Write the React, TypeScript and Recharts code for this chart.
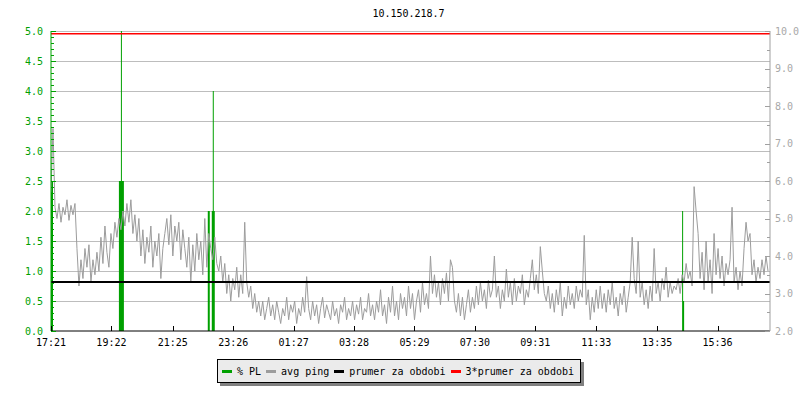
import { ComposedChart, Line, Area, XAxis, YAxis, CartesianGrid } from 'recharts';

const FONT = '"DejaVu Sans Mono", monospace';
const GREEN = '#00a000';
const PING_GRAY = '#9c9c9c';

// one avg ping sample every 4 minutes, starting at 17:21 (ms)
const SAMPLE_MIN = 4;
const PING = [
  5.7, 7.4, 5.3,
  5.0, 5.4, 4.9, 5.3, 5.1, 5.5, 4.95, 5.35, 5.1, 5.4,
  4.2, 3.2,
  3.9, 3.4, 4.2, 3.7, 4.3, 3.3, 3.9, 3.5, 4.1, 3.6,
  4.5, 3.8, 4.8, 4.1, 3.7, 4.6, 4.2,
  4.9, 4.5, 5.0, 4.7, 5.2, 4.8,
  5.4, 4.9, 5.5, 4.6, 5.1, 4.4, 5.0,
  4.0, 4.7, 3.8, 4.5, 4.1, 4.8, 3.7, 4.4, 4.0, 4.6, 3.4, 4.2,
  4.6, 5.0, 4.3, 5.1, 4.0, 4.8, 4.4, 4.9, 3.9, 4.7, 4.2,
  3.7, 4.5, 3.3, 4.3, 3.6, 4.6, 3.9,
  4.4, 3.5, 5.0, 3.7, 4.6,
  4.2, 3.9, 4.5, 3.8,
  3.6, 4.0, 3.3, 3.8,
  3.0, 3.5, 2.8, 3.4, 3.1, 3.7, 2.9,
  3.5, 3.0, 4.9, 3.3,
  2.9, 3.2, 2.6, 3.0, 2.5, 2.8,
  2.4, 2.8, 2.3, 2.6, 2.9, 2.4, 2.7, 2.3, 2.8, 2.5, 2.2, 2.6,
  2.4, 2.9, 2.3, 2.7, 2.5, 2.8, 2.2, 2.6, 2.4, 2.9, 2.5, 3.45,
  2.6, 2.3, 2.8, 2.4, 2.7, 2.2, 2.6, 2.9, 2.35, 2.7, 2.5, 2.3,
  2.8, 2.4, 2.6, 2.2, 2.7, 2.5, 2.9, 2.3, 2.6, 2.4, 2.8, 2.3,
  2.7, 2.45, 2.9, 2.3, 2.6, 2.5, 3.0, 2.4, 2.7, 2.3, 2.8, 2.5,
  3.1, 2.4, 2.7, 2.2, 2.9, 2.5, 3.2, 2.4, 2.8, 2.3, 3.0, 2.6,
  2.9, 2.4, 3.2, 2.6, 3.0, 2.3, 2.8, 3.1, 2.5, 3.3, 2.7, 3.0, 2.6,
  4.0,
  3.0, 3.5, 2.9, 3.3, 2.7, 3.4, 3.0, 3.55, 2.8,
  3.9, 3.7,
  2.8, 2.5, 3.0, 2.4, 2.9, 2.3, 2.7, 3.1, 2.5, 2.9, 2.6,
  3.2, 2.7, 3.3, 2.8, 3.1, 2.6, 3.35, 2.9, 3.1,
  4.0,
  2.9, 3.2, 2.6, 3.1, 2.8,
  3.65,
  2.9, 3.3, 2.7, 3.4, 2.8, 3.2, 3.0, 3.5, 2.7, 3.1, 2.9, 3.4,
  3.9, 3.1, 3.5, 3.0, 4.25, 3.6, 3.0,
  2.8, 3.2, 2.6, 3.0, 2.5, 3.1, 2.7, 3.3, 2.4, 2.9, 2.6, 3.2, 2.7, 3.0,
  2.6, 3.2, 2.8, 3.1, 2.9,
  4.55,
  2.7, 3.1, 2.3, 2.9, 2.5, 3.1, 2.6,
  3.2, 2.6, 3.0, 2.5, 3.1, 2.7, 3.3, 2.6, 2.9, 2.4, 3.0, 2.7, 3.2, 2.5, 2.9, 3.3,
  4.5,
  3.4, 3.0,
  4.4,
  2.9, 3.3, 2.7, 3.1, 2.6, 3.2, 2.8,
  4.2,
  3.0, 3.3, 2.8, 3.4, 3.1, 3.7, 2.9, 3.3, 3.0, 3.2, 3.1, 3.4, 3.0,
  3.5, 3.3, 3.8, 3.4, 3.6, 3.2,
  5.85, 5.2, 4.6,
  3.4, 4.1, 3.1, 4.4, 3.3, 3.9, 3.0, 4.6, 3.5, 4.2,
  3.4, 4.0, 3.2, 3.8, 3.5, 3.9,
  5.3,
  3.3, 3.7, 3.1, 3.6, 3.2, 4.2,
  4.9, 4.4, 4.6,
  3.5, 3.9, 3.3, 3.7, 3.4, 3.9, 3.5, 4.0, 3.6,
];

// packet loss steps: [minute from start, % PL]
const PL_STEPS = [
  [0, 2.5], [4, 0],
  [136, 2.5], [140, 5.0], [142, 2.5], [146, 0],
  [314, 2.0], [318, 0],
  [322, 2.0], [324, 4.0], [326, 2.0], [328, 0],
  [1264, 2.0], [1266, 0.5], [1268, 0],
  [1440, 0],
];

const AVG_PING = 3.31;
const SPAN_MIN = 1440;

const X_TICKS = [0, 121, 244, 365, 486, 607, 728, 849, 970, 1092, 1214, 1335];
const X_LABELS = ['17:21', '19:22', '21:25', '23:26', '01:27', '03:28', '05:29', '07:30', '09:31', '11:33', '13:35', '15:36'];

const LEFT_GRID = [0.5, 1.0, 1.5, 2.0, 2.5, 3.0, 3.5, 4.0, 4.5, 5.0];
const LEFT_TICKS = Array.from({ length: 51 }, (_, i) => i / 10);
const RIGHT_TICKS = [2, 2.5, 3, 3.5, 4, 4.5, 5, 5.5, 6, 6.5, 7, 7.5, 8, 8.5, 9, 9.5, 10];

const pingRows = PING.map((v, i) => ({ t: i * SAMPLE_MIN, ping: v }));
const plRows = PL_STEPS.map(([t, pl]) => ({ t, pl }));
const avgRows = [{ t: 0, v: AVG_PING }, { t: SPAN_MIN, v: AVG_PING }];
const tripleRows = [{ t: 0, v: AVG_PING * 3 }, { t: SPAN_MIN, v: AVG_PING * 3 }];

const LeftTick = (props: any) => {
  const { x, y, payload } = props;
  const v = payload.value;
  const major = Math.abs(v * 2 - Math.round(v * 2)) < 1e-6;
  return (
    <g>
      <line x1={x} x2={x + (major ? 5 : 3)} y1={y + 0.5} y2={y + 0.5} stroke={GREEN} shapeRendering="crispEdges" />
      {major && (
        <text x={x - 8} y={y + 3.5} textAnchor="end" fill={GREEN} fontSize={10} fontFamily={FONT}>
          {v.toFixed(1)}
        </text>
      )}
    </g>
  );
};

const RightTick = (props: any) => {
  const { x, y, payload } = props;
  const v = payload.value;
  const major = Number.isInteger(v);
  return (
    <g>
      <line x1={x - (major ? 5 : 3)} x2={x} y1={y + 0.5} y2={y + 0.5} stroke="#a0a0a0" shapeRendering="crispEdges" />
      {major && (
        <text x={x + 5} y={y + 3.5} textAnchor="start" fill="#a8a8a8" fontSize={10} fontFamily={FONT}>
          {v.toFixed(1)}
        </text>
      )}
    </g>
  );
};

const BottomTick = (props: any) => {
  const { x, y, payload } = props;
  const label = X_LABELS[X_TICKS.indexOf(payload.value)];
  return (
    <g>
      <line x1={x + 0.5} x2={x + 0.5} y1={y - 5} y2={y} stroke="#000" shapeRendering="crispEdges" />
      <text x={x} y={y + 15} textAnchor="middle" fill="#000" fontSize={10} fontFamily={FONT}>
        {label}
      </text>
    </g>
  );
};

const LEGEND = [
  { name: '% PL', color: GREEN },
  { name: 'avg ping', color: PING_GRAY },
  { name: 'prumer za obdobi', color: '#000' },
  { name: '3*prumer za obdobi', color: '#f00' },
];

export default function App() {
  return (
    <div style={{ position: 'absolute', left: 0, top: 0, width: 800, height: 400, background: '#fff' }}>
      <div
        style={{
          position: 'absolute',
          left: 0,
          width: 817,
          top: 8,
          textAlign: 'center',
          fontFamily: FONT,
          fontSize: 10,
          lineHeight: '12px',
          color: '#000',
        }}
      >
        10.150.218.7
      </div>
      <ComposedChart width={800} height={400} margin={{ top: 31, right: 0, bottom: 49, left: 0 }}>
        <CartesianGrid
          yAxisId="left"
          vertical={false}
          horizontalValues={LEFT_GRID}
          stroke="#bdbdbd"
          shapeRendering="crispEdges"
        />
        <XAxis
          dataKey="t"
          type="number"
          domain={[0, SPAN_MIN]}
          ticks={X_TICKS}
          interval={0}
          height={20}
          tickSize={0}
          tickMargin={0}
          tickLine={false}
          axisLine={{ stroke: '#000' }}
          tick={<BottomTick />}
          allowDataOverflow
        />
        <YAxis
          yAxisId="left"
          orientation="left"
          width={51}
          domain={[0, 5]}
          ticks={LEFT_TICKS}
          interval={0}
          tickSize={0}
          tickMargin={0}
          tickLine={false}
          axisLine={{ stroke: GREEN }}
          tick={<LeftTick />}
          allowDataOverflow
        />
        <YAxis
          yAxisId="right"
          orientation="right"
          width={30}
          domain={[2, 10]}
          ticks={RIGHT_TICKS}
          interval={0}
          tickSize={0}
          tickMargin={0}
          tickLine={false}
          axisLine={{ stroke: '#a0a0a0' }}
          tick={<RightTick />}
          allowDataOverflow
        />
        <Line
          yAxisId="right"
          data={pingRows}
          dataKey="ping"
          stroke={PING_GRAY}
          strokeWidth={1}
          dot={false}
          isAnimationActive={false}
        />
        <Line
          yAxisId="right"
          data={avgRows}
          dataKey="v"
          stroke="#000"
          strokeWidth={2}
          dot={false}
          isAnimationActive={false}
        />
        <Line
          yAxisId="right"
          data={tripleRows}
          dataKey="v"
          stroke="#ff0000"
          strokeWidth={1.5}
          dot={false}
          isAnimationActive={false}
        />
        <Area
          yAxisId="left"
          data={plRows}
          dataKey="pl"
          type="stepAfter"
          stroke="none"
          fill={GREEN}
          fillOpacity={1}
          isAnimationActive={false}
        />
      </ComposedChart>
      <div
        style={{
          position: 'absolute',
          left: 217,
          top: 359,
          width: 364,
          height: 24,
          boxSizing: 'border-box',
          border: '1px solid #000',
          background: '#ebebeb',
          boxShadow: '3px 3px 0 #808080',
          display: 'flex',
          alignItems: 'center',
          paddingLeft: 4,
          fontFamily: FONT,
          fontSize: 10,
          color: '#000',
          whiteSpace: 'nowrap',
        }}
      >
        {LEGEND.map((item) => (
          <span key={item.name} style={{ display: 'flex', alignItems: 'center', marginRight: 5 }}>
            <span style={{ display: 'inline-block', width: 10, height: 3, background: item.color, marginRight: 5 }} />
            <span>{item.name}</span>
          </span>
        ))}
      </div>
    </div>
  );
}
